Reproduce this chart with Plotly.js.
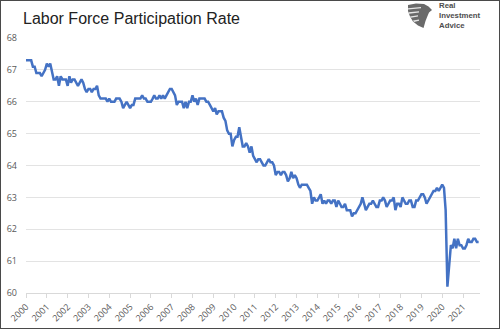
<!DOCTYPE html>
<html>
<head>
<meta charset="utf-8">
<script src="https://cdn.plot.ly/plotly-3.0.1.min.js"></script>
<style>
html,body{margin:0;padding:0;background:#fff;}
#chart{width:498px;height:327px;border:1px solid #4a4a4a;}
</style>
</head>
<body>
<div id="chart"></div>
<script>
// Monthly labor force participation rate (%), Jan 2000 - Oct 2021
const years = [2000,2001,2002,2003,2004,2005,2006,2007,2008,2009,2010,2011,2012,2013,2014,2015,2016,2017,2018,2019,2020,2021];
const rate2000 = [67.3,67.3,67.3,67.3,67.1,67.1,66.9,66.9,66.9,66.8,66.9,67.0];
const rate2001 = [67.2,67.1,67.2,66.9,66.7,66.7,66.8,66.5,66.8,66.7,66.7,66.7];
const rate2002 = [66.5,66.8,66.6,66.7,66.7,66.6,66.5,66.6,66.7,66.6,66.4,66.3];
const rate2003 = [66.4,66.4,66.3,66.4,66.4,66.5,66.2,66.1,66.1,66.1,66.1,66.0];
const rate2004 = [66.1,66.0,66.0,66.0,66.1,66.1,66.1,66.0,65.8,65.9,66.0,65.9];
const rate2005 = [65.8,65.9,65.9,66.1,66.1,66.1,66.1,66.2,66.1,66.1,66.0,66.0];
const rate2006 = [66.0,66.1,66.2,66.1,66.1,66.2,66.1,66.2,66.1,66.2,66.3,66.4];
const rate2007 = [66.4,66.3,66.2,65.9,66.0,66.0,66.0,65.8,66.0,65.8,66.0,66.0];
const rate2008 = [66.2,66.0,66.1,65.9,66.1,66.1,66.1,66.1,66.0,66.0,65.9,65.8];
const rate2009 = [65.7,65.8,65.6,65.7,65.7,65.7,65.5,65.4,65.1,65.0,65.0,64.6];
const rate2010 = [64.8,64.9,64.9,65.2,64.9,64.6,64.6,64.7,64.6,64.4,64.6,64.3];
const rate2011 = [64.2,64.1,64.2,64.2,64.1,64.0,64.0,64.1,64.2,64.1,64.1,64.0];
const rate2012 = [63.7,63.8,63.8,63.7,63.8,63.8,63.7,63.5,63.6,63.8,63.6,63.7];
const rate2013 = [63.6,63.4,63.3,63.4,63.4,63.4,63.4,63.3,63.2,62.8,63.0,62.9];
const rate2014 = [62.9,63.0,63.1,62.8,62.9,62.8,62.9,62.9,62.8,62.9,62.9,62.7];
const rate2015 = [62.9,62.8,62.7,62.7,62.8,62.6,62.6,62.6,62.4,62.5,62.5,62.6];
const rate2016 = [62.7,62.8,63.0,62.8,62.6,62.7,62.8,62.8,62.9,62.8,62.7,62.7];
const rate2017 = [62.9,62.9,63.0,62.9,62.7,62.8,62.9,62.9,63.0,62.6,62.8,62.8];
const rate2018 = [62.7,63.0,62.9,62.8,62.8,62.9,62.9,62.7,62.7,62.9,62.9,63.0];
const rate2019 = [63.1,63.1,63.0,62.8,62.9,63.0,63.1,63.2,63.2,63.3,63.2,63.3];
const rate2020 = [63.4,63.3,62.6,60.2,60.8,61.5,61.4,61.7,61.4,61.7,61.5,61.5];
const rate2021 = [61.4,61.4,61.5,61.7,61.6,61.6,61.7,61.7,61.6,61.6];
const yearTickLabels = years.map(String);
const logoLines = ['Real', 'Investment', 'Advice'];

const allRates = [rate2000,rate2001,rate2002,rate2003,rate2004,rate2005,rate2006,rate2007,rate2008,rate2009,rate2010,rate2011,rate2012,rate2013,rate2014,rate2015,rate2016,rate2017,rate2018,rate2019,rate2020,rate2021];
const xs = [], ys = [];
allRates.forEach((arr, i) => {
  arr.forEach((v, m) => {
    xs.push(years[i] + '-' + String(m + 1).padStart(2, '0') + '-01');
    ys.push(v);
  });
});
const tickVals = years.map(y => y + '-01-01');

const trace = {
  x: xs, y: ys, type: 'scatter', mode: 'lines',
  line: {color: '#4472C4', width: 2.5},
  hoverinfo: 'skip'
};

// plot-area geometry (page pixels) used only to place the logo decoration
const PL = 26, PW = 454, PB = 293, PH = 255;
function px(X) { return (X - PL) / PW; }
function py(Y) { return (PB - Y) / PH; }
function P(pts) {
  return 'M ' + pts.map(p => px(p[0]).toFixed(4) + ' ' + py(p[1]).toFixed(4)).join(' L ') + ' Z';
}
const eagleHead = [[408,5],[416,3.5],[424,4],[428.5,6.5],[432,10],[429,12.5],[427.5,16],[425.5,21],[423.5,28],[418,25.5],[413,21.5],[410,16.5],[408,11]];
const stripes = [
  [[408,8.2],[421,7],[421,8.3],[408,9.6]],
  [[408.5,12.3],[419,11.2],[419,12.5],[409,13.7]],
  [[410,16.4],[418,15.3],[418,16.6],[410.8,17.8]],
  [[413,20.6],[419,19.6],[419,20.8],[414,22]]
];

const tickFont = {family: 'Open Sans, Liberation Sans, sans-serif', size: 9, color: '#595959'};

const layout = {
  width: 498, height: 327,
  margin: {l: 25, r: 19, t: 37, b: 35, pad: 0},
  paper_bgcolor: '#fff', plot_bgcolor: '#fff',
  showlegend: false,
  title: {
    text: 'Labor Force Participation Rate',
    font: {family: 'Liberation Sans, Arial, sans-serif', size: 16, color: '#222'},
    x: 0, xref: 'paper', xanchor: 'left', y: 0.948, yanchor: 'middle',
    pad: {l: -3}
  },
  xaxis: {
    type: 'date',
    range: ['2000-01-01', '2021-10-25'],
    tickvals: tickVals, ticktext: yearTickLabels,
    tickangle: -45, tickfont: tickFont,
    ticks: 'outside', ticklen: 4, tickcolor: '#d9d9d9',
    showline: true, linecolor: '#d9d9d9', linewidth: 1,
    showgrid: false, zeroline: false, fixedrange: true
  },
  yaxis: {
    range: [60, 68], dtick: 1, tick0: 60,
    tickfont: tickFont, ticks: '',
    showgrid: true, gridcolor: '#e3e3e3', gridwidth: 1,
    showline: false, zeroline: false, fixedrange: true,
    ticklabelstandoff: 8
  },
  annotations: [{
    xref: 'paper', yref: 'paper', x: px(438), y: py(15), xanchor: 'left', yanchor: 'middle',
    align: 'left', showarrow: false, borderpad: 0,
    text: logoLines.map(t => '<b>' + t + '</b>').join('<br>'),
    font: {family: 'Liberation Sans, Arial, sans-serif', size: 7.8, color: '#4d4d4d'}
  }],
  shapes: [
    {type: 'path', xref: 'paper', yref: 'paper', path: P(eagleHead), fillcolor: '#6a6a6a', line: {width: 0}, layer: 'above'}
  ].concat(stripes.map(s => ({type: 'path', xref: 'paper', yref: 'paper', path: P(s), fillcolor: '#e6e6e6', line: {width: 0}, layer: 'above'})))
};

Plotly.newPlot('chart', [trace], layout, {displayModeBar: false, staticPlot: true});
</script>
</body>
</html>
